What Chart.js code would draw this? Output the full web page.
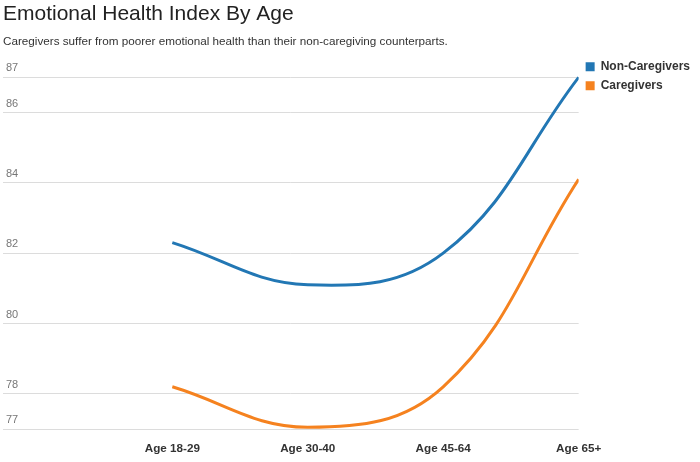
<!DOCTYPE html>
<html>
<head>
<meta charset="utf-8">
<script src="https://cdn.jsdelivr.net/npm/chart.js@4"></script>
<style>
    html, body { margin: 0; padding: 0; background: #fff; }
    #wrap { width: 700px; height: 462px; }
</style>
</head>
<body>
<div id="wrap"><canvas id="healthChart"></canvas></div>
<script>
// 연령대 라벨
const ageGroups = ['Age 18-29', 'Age 30-40', 'Age 45-64', 'Age 65+'];
// 정서 건강 지수
const nonCaregivers = [82.3, 81.1, 82.0, 87.0];
const caregivers = [78.2, 77.05, 78.2, 84.1];
// y축 눈금
const yTicks = [77, 78, 80, 82, 84, 86, 87];
const yAxisMin = 77;
const yAxisMax = 87.67;
// x축 범위 (왼쪽 여백 포함)
const xAxisMin = -1.25;
const xAxisMax = 3;

const fontFamily = '"Liberation Sans", Arial, Helvetica, sans-serif';

function toPoints(values) {
    return values.map((v, i) => ({ x: i, y: v }));
}

const ctx = document.getElementById('healthChart').getContext('2d');

new Chart(ctx, {
    type: 'line',
    data: {
        datasets: [{
            label: 'Non-Caregivers',
            data: toPoints(nonCaregivers),
            borderColor: '#2277b4',
            backgroundColor: '#2277b4',
            borderWidth: 3,
            pointRadius: 0,
            tension: 0.4,
            fill: false
        }, {
            label: 'Caregivers',
            data: toPoints(caregivers),
            borderColor: '#f5821f',
            backgroundColor: '#f5821f',
            borderWidth: 3,
            pointRadius: 0,
            tension: 0.4,
            fill: false
        }]
    },
    options: {
        responsive: true,
        maintainAspectRatio: false,
        animation: false,
        layout: {
            padding: { left: 3, right: 0, top: 0, bottom: 0 }
        },
        plugins: {
            title: {
                display: true,
                text: 'Emotional Health Index By Age',
                align: 'start',
                color: '#222',
                font: { family: fontFamily, size: 21, weight: 'normal' },
                padding: { top: 2, bottom: 1 }
            },
            subtitle: {
                display: true,
                text: 'Caregivers suffer from poorer emotional health than their non-caregiving counterparts.',
                align: 'start',
                color: '#333',
                font: { family: fontFamily, size: 11.7, weight: 'normal' },
                padding: { top: 7, bottom: 4.5 }
            },
            legend: {
                position: 'right',
                align: 'start',
                fullSize: false,
                labels: {
                    boxWidth: 9,
                    boxHeight: 9,
                    padding: 7,
                    color: '#333',
                    font: { family: fontFamily, size: 12, weight: 'bold' },
                    generateLabels: function(chart) {
                        const items = Chart.defaults.plugins.legend.labels.generateLabels(chart);
                        items.forEach(item => {
                            item.lineWidth = 0;
                            item.fillStyle = item.strokeStyle;
                        });
                        return items;
                    }
                }
            },
            tooltip: { enabled: false }
        },
        scales: {
            x: {
                type: 'linear',
                min: xAxisMin,
                max: xAxisMax,
                afterBuildTicks: axis => {
                    axis.ticks = ageGroups.map((_, i) => ({ value: i }));
                },
                afterFit: axis => {
                    axis.height = 33;
                },
                grid: { display: false, drawTicks: false },
                border: { display: false },
                ticks: {
                    padding: 13,
                    maxRotation: 0,
                    autoSkip: false,
                    color: '#333',
                    font: { family: fontFamily, size: 11.7, weight: 'bold' },
                    callback: value => ageGroups[value]
                }
            },
            y: {
                min: yAxisMin,
                max: yAxisMax,
                afterBuildTicks: axis => {
                    axis.ticks = yTicks.map(v => ({ value: v }));
                },
                afterFit: axis => {
                    axis.width = 0;
                },
                grid: { color: '#dcdcdc', lineWidth: 1, drawTicks: false },
                border: { display: false },
                ticks: {
                    mirror: true,
                    padding: 3,
                    labelOffset: -9,
                    color: '#777',
                    font: { family: fontFamily, size: 11 }
                }
            }
        }
    }
});
</script>
</body>
</html>
